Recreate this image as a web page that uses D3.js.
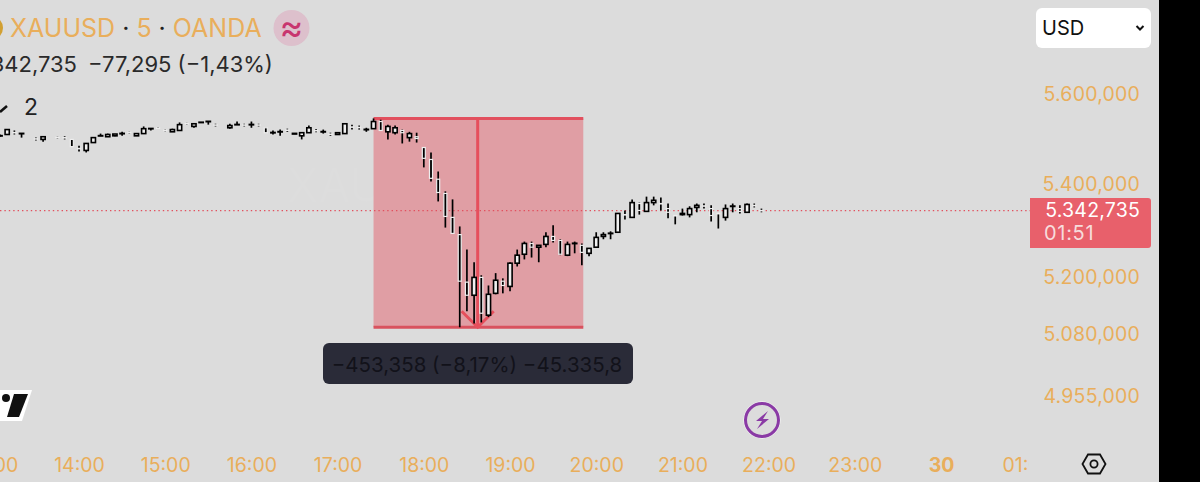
<!DOCTYPE html>
<html><head><meta charset="utf-8">
<style>html,body{margin:0;padding:0;background:#dcdcdc;overflow:hidden}svg{display:block}</style>
<script src="https://cdn.jsdelivr.net/npm/d3@7/dist/d3.min.js"></script></head>
<body><svg id="c" width="1200" height="482"></svg>
<script>
// 5-minute candles starting 13:05 (null = no visible candle); rows of ten
const startMinute = 13*60+5, stepMinutes = 5;
const opens = [
5507,5510,5514.5,5512,null,5500.5,5499,null,5503.5,5503,
5499,5479,5474.5,5492,5507,5505,5507,5512,5514.5,5507,
5512,5523,5524.5,5519.5,5516,5519,5534.5,5528,5537,5539,
5531.5,null,5525,5532,5531.5,5532,5531.5,5525,5514,5516,
5520,5511,5507,5514,5519,5516,5511,5510,5512,5527,
5526,5521,5523,5539,5516,5514,5519,5503,5505,5481,
5454.5,5411,5380,5328,5291,5190,5162.5,5200,5121,5166.5,
5192,5181,5230,5249,5272,5264,5270,5287,5278.5,5247,
5272,5268,5251,5264,5287,5293.5,5296,5334,5328,5358,
5341,5360,5358,5347,5332,5334,5334,5349.5,5353,5347,
5336.5,5328,5352,5347,5339,5354,5343];
const highs = [
5510,5521,5519,5512.5,null,5503,5505,null,5505,5506,
5499,5485,5490,5503,5512,5512,5511,5516,5516,5512,
5528,5523.5,5526,5521,5523,5537,5536,5534,5537.5,5539.5,
5534,null,5534,5539,5534,5539,5534,5525,5519,5521,
5523,5512.5,5514,5530,5522,5521,5514,5514,5534,5532,
5530,5525,5546,5543,5532,5530,5521,5516,5514,5481,
5470,5428,5384.5,5367,5308.5,5259,5232,5204.5,5183,5209,
5198,5232,5259,5276,5276,5268,5296,5311,5281,5276,
5276,5272,5261.5,5296,5296,5298,5336.5,5343,5367,5360,
5373,5373,5371,5358,5332,5347,5352,5358,5358,5354,
5336.5,5356,5358,5354,5358,5358,5347];
const lows = [
5505,5510,5510,5503,null,5496.5,5494,null,5501,5499,
5483,5472,5470,5492,5507,5505,5506,5507,5512,5507,
5512,5519,5522,5517,5516,5519,5532,5525,5536,5532,
5528,null,5523,5532,5528,5525,5528,5514,5510,5507,
5516,5511,5499,5514,5515,5512,5507,5510,5512,5521,
5521,5516,5523,5519,5499,5510,5490,5494,5492,5437,
5406,5362.5,5306,5293.5,5096,5129,5104,5106,5117,5164.5,
5166.5,5171,5223,5238,5242,5232,5264,5274,5247,5245,
5251,5225.5,5245,5264,5281,5281,5296,5323.5,5328,5334,
5341,5354,5343,5326,5313,5332,5328,5339,5347,5319,
5304,5321,5339,5336.5,5339,5349.5,5339];
const closes = [
5507.5,5521,5514,5512.5,null,5500,5505,null,5503,5502.5,
5483,5478.5,5490,5503,5507.5,5510,5511,5512.5,5514,5512,
5523,5523.5,5524,5519,5521,5532,5534,5534,5537.5,5539.5,
5531,null,5530,5532.5,5531,5532.5,5531,5514,5514.5,5516.5,
5519.5,5512.5,5514,5525,5518.5,5516.5,5510.5,5514,5534,5526.5,
5525.5,5521.5,5539,5519,5528,5525,5514,5512,5501,5457,
5413,5382,5330,5293.5,5192,5162.5,5200,5125,5164.5,5194,
5183,5230,5247,5272,5264,5268,5287,5278.5,5249,5270,
5272.5,5253,5261.5,5285,5291,5294,5336.5,5333.5,5360,5343,
5360,5365,5357.5,5339,5331.5,5336.5,5347,5354,5352.5,5332,
5336,5347,5352.5,5341,5356,5353.5,5342.7];
const priceTicks = [5600,5400,5200,5080,4955];
const hourTicks = [13,14,15,16,17,18,19,20,21,22,23,24,25];
const hourLabels = ["13:00","14:00","15:00","16:00","17:00","18:00","19:00","20:00","21:00","22:00","23:00","30","01:00"];
const lastPrice = 5342.735;
const measureTop = 5546, measureBottom = 5096;
const measureStart = 17*60+25, measureEnd = 19*60+51, measureMid = 18*60+37.5;

const svg = d3.select("#c");
const orange = "#e9ae5b";
const FONT = "Inter, 'Liberation Sans', sans-serif";
svg.append("rect").attr("width",1200).attr("height",482).attr("fill","#dcdcdc");

const x = d3.scaleLinear().domain([startMinute, startMinute+60]).range([0,86.2]);
const y = d3.scaleLog().domain([5600,4955]).range([94.5,396.5]);
const fmt = d3.formatLocale({decimal:",",thousands:".",grouping:[3],currency:["",""]}).format(",.3f");

const defs = svg.append("defs");
defs.append("clipPath").attr("id","plot").append("rect").attr("width",1029).attr("height",482);
defs.append("filter").attr("id","blur").append("feGaussianBlur").attr("stdDeviation",0.35);

// faint watermark
svg.append("text").attr("x",287).attr("y",202).attr("font-family",FONT).attr("font-size",46).attr("fill","#dddddd").text("XAUUSD");

// measure box
const bx0=x(measureStart), bx1=x(measureEnd), by0=y(measureTop), by1=y(measureBottom), bxm=x(measureMid);
svg.append("rect").attr("x",bx0).attr("y",by0).attr("width",bx1-bx0).attr("height",by1-by0).attr("fill","#e09ea4");
svg.append("line").attr("x1",bx0).attr("x2",bx1).attr("y1",by0).attr("y2",by0).attr("stroke","#e2505e").attr("stroke-width",3);
svg.append("line").attr("x1",bx0).attr("x2",bx1).attr("y1",by1).attr("y2",by1).attr("stroke","#d9525e").attr("stroke-width",3);
svg.append("line").attr("x1",bxm).attr("x2",bxm).attr("y1",by0).attr("y2",by1).attr("stroke","#e64f5c").attr("stroke-width",3);
svg.append("path").attr("d",d3.line()([[bxm-16,by1-16],[bxm,by1],[bxm+16,by1-16]])).attr("fill","none").attr("stroke","#e64f5c").attr("stroke-width",3);

// last price line
svg.append("line").attr("x1",0).attr("x2",1030).attr("y1",y(lastPrice)).attr("y2",y(lastPrice))
  .attr("stroke","#e2505e").attr("stroke-width",1.2).attr("stroke-dasharray","1.4 3");

// candles
const candles = opens.map((o,i)=>({t:startMinute+i*stepMinutes,o,h:highs[i],l:lows[i],c:closes[i]})).filter(d=>d.o!==null);
const g = svg.append("g").attr("filter","url(#blur)").selectAll("g").data(candles).join("g");
g.append("line").attr("x1",d=>x(d.t)).attr("x2",d=>x(d.t)).attr("y1",d=>y(d.h)).attr("y2",d=>y(d.l)).attr("stroke","#000").attr("stroke-width",1.7);
g.append("rect").attr("x",d=>x(d.t)-(d.c>d.o?2.1:1.5)).attr("width",d=>d.c>d.o?4.2:3)
  .attr("y",d=>y(Math.max(d.o,d.c))).attr("height",d=>Math.max(0.4,Math.abs(y(d.o)-y(d.c))))
  .attr("fill",d=>d.c>d.o?"#f0f0f0":"#000")
  .attr("stroke",d=>d.c>d.o?"#000":"#eeeeee").attr("stroke-width",d=>d.c>d.o?1.6:1.2);

// y axis
const ya = svg.append("g").attr("transform","translate(1140,-0.5)")
  .call(d3.axisRight(y).tickValues(priceTicks).tickFormat(fmt).tickSize(0).tickPadding(0));
ya.select(".domain").remove();
ya.selectAll("text").attr("text-anchor","end").attr("font-family",FONT).attr("font-size",19.5).attr("fill",orange).attr("letter-spacing",0.2);

// x axis
const xa = svg.append("g").attr("clip-path","url(#plot)").append("g").attr("transform","translate(0,465)")
  .call(d3.axisBottom(d3.scaleLinear().domain([13,25]).range([x(13*60),x(25*60)])).tickValues(hourTicks).tickFormat((d,i)=>hourLabels[i]).tickSize(0).tickPadding(0));
xa.select(".domain").remove();
xa.selectAll("text").attr("dy","0.35em").attr("y",0).attr("font-family",FONT).attr("font-size",19.5).attr("fill",orange)
  .attr("font-weight",d=>d===24?700:400);

// price label
svg.append("path").attr("d","M1030 198H1148a3 3 0 0 1 3 3V245a3 3 0 0 1 -3 3H1030Z").attr("fill","#e8606b");
svg.append("text").attr("x",1140).attr("y",217).attr("text-anchor","end").attr("font-family",FONT).attr("font-size",19.5).attr("letter-spacing",0.2).attr("fill","#fff").text(fmt(lastPrice));
svg.append("text").attr("x",1044).attr("y",240).attr("font-family",FONT).attr("font-size",20).attr("letter-spacing",0.7).attr("fill","#f7dcdc").text("01:51");

// USD box
svg.append("rect").attr("x",1036).attr("y",8).attr("width",115).attr("height",40).attr("rx",6).attr("fill","#fff");
svg.append("text").attr("x",1042).attr("y",35).attr("font-family",FONT).attr("font-size",20).attr("fill","#111").text("USD");
svg.append("path").attr("d","M1136.5 26l3.5 3.5l3.5 -3.5").attr("fill","none").attr("stroke","#111").attr("stroke-width",2);

// right black bar
svg.append("rect").attr("x",1159).attr("y",0).attr("width",41).attr("height",482).attr("fill","#000");

// header
svg.append("circle").attr("cx",-9).attr("cy",28).attr("r",12).attr("fill","#d2a032");
const t1 = svg.append("text").attr("x",10).attr("y",37).attr("font-family",FONT).attr("font-size",25).attr("fill",orange);
t1.append("tspan").text("XAUUSD");
t1.append("tspan").attr("fill","#222").text(" · ");
t1.append("tspan").text("5");
t1.append("tspan").attr("fill","#222").text(" · ");
t1.append("tspan").text("OANDA");
svg.append("circle").attr("cx",291.5).attr("cy",28).attr("r",18).attr("fill","#ddc0cc");
svg.append("text").attr("x",291.5).attr("y",40).attr("text-anchor","middle").attr("font-family",FONT).attr("font-size",36).attr("fill","#c8356f").text("≈");
svg.append("text").attr("x",77).attr("y",72).attr("text-anchor","end").attr("font-family",FONT).attr("font-size",22).attr("fill","#2a2a2a").text("5.342,735");
svg.append("text").attr("x",88).attr("y",72).attr("font-family",FONT).attr("font-size",22).attr("fill","#2a2a2a").text("−77,295 (−1,43%)");
svg.append("path").attr("d","M0 112L7 106").attr("stroke","#111").attr("stroke-width",2.5);
svg.append("text").attr("x",24).attr("y",115).attr("font-family",FONT).attr("font-size",23).attr("fill","#222").text("2");

// tooltip
svg.append("rect").attr("x",323).attr("y",343).attr("width",310).attr("height",41).attr("rx",6).attr("fill","#2a2b38");
svg.append("text").attr("x",477).attr("y",372).attr("text-anchor","middle").attr("font-family",FONT).attr("font-size",20.5).attr("fill","#12121a").text("−453,358 (−8,17%) −45.335,8");

// TV logo
svg.append("path").attr("d","M0 390H32L22 421H0Z").attr("fill","#fff");
svg.append("path").attr("d","M14 394H28L19 417H7Z").attr("fill","#111");
svg.append("circle").attr("cx",6).attr("cy",398).attr("r",4).attr("fill","#111");

// bolt icon
svg.append("circle").attr("cx",762).attr("cy",420).attr("r",18.5).attr("fill","#fff");
svg.append("circle").attr("cx",762).attr("cy",420).attr("r",16.5).attr("fill","#dcdcdc").attr("stroke","#8a3aa5").attr("stroke-width",3);
svg.append("path").attr("d","M768 411L756 421H762L757 429L769 419H763Z").attr("fill","#8a3aa5");

// hexagon
svg.append("path").attr("d","M1082.5 464L1088 454.5H1100L1105.5 464L1100 473.5H1088Z").attr("fill","none").attr("stroke","#111").attr("stroke-width",1.8);
svg.append("circle").attr("cx",1094).attr("cy",464).attr("r",3.6).attr("fill","none").attr("stroke","#111").attr("stroke-width",1.8);
</script></body></html>
